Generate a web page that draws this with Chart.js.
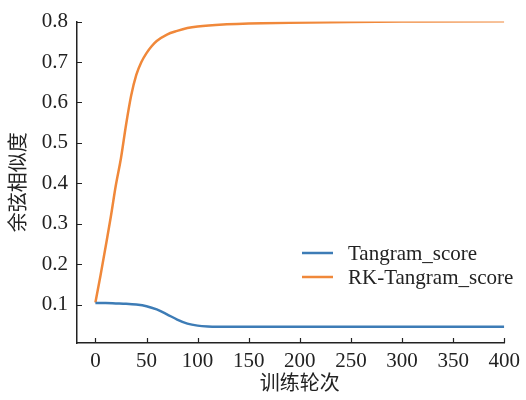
<!DOCTYPE html>
<html>
<head>
<meta charset="utf-8">
<script src="https://cdn.jsdelivr.net/npm/chart.js@4.4.1/dist/chart.umd.min.js"></script>
<style>
  body { margin: 0; background: #fff; }
  canvas { display: block; }
</style>
</head>
<body>
<canvas id="myChart" width="526" height="400"></canvas>
<script>
// epochs and scores for both runs
const tangramEpochs = [0, 10, 20, 30, 40, 50, 60, 70, 80, 90, 100, 110, 130, 160, 200, 300, 400];
const tangramScore = [0.104, 0.104, 0.103, 0.102, 0.100, 0.096, 0.088, 0.076, 0.063, 0.053, 0.048, 0.046, 0.045, 0.045, 0.045, 0.045, 0.045];

const rkEpochs = [0, 5, 10, 15, 20, 25, 30, 35, 40, 45, 50, 55, 60, 70, 80, 90, 100, 125, 150, 190, 250, 300, 400];
const rkScore = [0.105, 0.172, 0.243, 0.316, 0.395, 0.462, 0.545, 0.617, 0.668, 0.700, 0.722, 0.739, 0.752, 0.768, 0.777, 0.784, 0.788, 0.793, 0.795, 0.797, 0.799, 0.800, 0.801];

const xTicks = [0, 50, 100, 150, 200, 250, 300, 350, 400];
const yTicks = [0.1, 0.2, 0.3, 0.4, 0.5, 0.6, 0.7, 0.8];
const xTitle = '训练轮次';

const serif = "'Liberation Serif', 'Times New Roman', serif";
const cjk = "'Noto Sans CJK SC', sans-serif";
const textColor = '#222';

const toPoints = (xs, ys) => xs.map((x, i) => ({ x: x, y: ys[i] }));

// short tick marks pointing into the plot, plus the x title centred under the tick span
const axisExtras = {
  id: 'axisExtras',
  afterDraw(chart) {
    const ctx = chart.ctx;
    const xs = chart.scales.x, ys = chart.scales.y;
    ctx.save();
    ctx.strokeStyle = textColor;
    ctx.lineWidth = 1.2;
    ctx.beginPath();
    xs.ticks.forEach(t => {
      const px = Math.round(xs.getPixelForValue(t.value)) + 0.5;
      ctx.moveTo(px, ys.bottom);
      ctx.lineTo(px, ys.bottom - 5);
    });
    ys.ticks.forEach(t => {
      const py = Math.round(ys.getPixelForValue(t.value)) + 0.5;
      ctx.moveTo(xs.left, py);
      ctx.lineTo(xs.left + 5, py);
    });
    ctx.stroke();

    const first = xs.getPixelForValue(xTicks[0]);
    const last = xs.getPixelForValue(xTicks[xTicks.length - 1]);
    ctx.fillStyle = textColor;
    ctx.font = '20px ' + cjk;
    ctx.textAlign = 'center';
    ctx.textBaseline = 'middle';
    ctx.fillText(xTitle, (first + last) / 2, 382);
    ctx.restore();
  }
};

// legend sitting inside the plot, lower right
const innerLegend = {
  id: 'innerLegend',
  afterDraw(chart) {
    const ctx = chart.ctx;
    ctx.save();
    ctx.font = '21px ' + serif;
    ctx.textBaseline = 'middle';
    chart.data.datasets.forEach((ds, i) => {
      const y = 253 + i * 24;
      ctx.strokeStyle = ds.borderColor;
      ctx.lineWidth = 2.5;
      ctx.beginPath();
      ctx.moveTo(302, y);
      ctx.lineTo(333, y);
      ctx.stroke();
      ctx.fillStyle = textColor;
      ctx.fillText(ds.label, 348, y + 1);
    });
    ctx.restore();
  }
};

const ctx = document.getElementById('myChart').getContext('2d');
const chart = new Chart(ctx, {
  type: 'line',
  data: {
    datasets: [{
      label: 'Tangram_score',
      data: toPoints(tangramEpochs, tangramScore),
      borderColor: '#3d7cb6',
      borderWidth: 2.5,
      pointRadius: 0,
      cubicInterpolationMode: 'monotone',
      fill: false
    }, {
      label: 'RK-Tangram_score',
      data: toPoints(rkEpochs, rkScore),
      borderColor: '#f0883a',
      borderWidth: 2.5,
      pointRadius: 0,
      cubicInterpolationMode: 'monotone',
      fill: false
    }]
  },
  options: {
    responsive: false,
    animation: false,
    layout: { padding: { top: 17, right: 16, left: 0, bottom: 0 } },
    plugins: {
      legend: { display: false },
      tooltip: { enabled: false }
    },
    scales: {
      x: {
        type: 'linear',
        min: -18,
        max: 400,
        afterBuildTicks: s => { s.ticks = xTicks.map(v => ({ value: v })); },
        afterFit: s => { s.height = 57; },
        grid: { display: false, drawTicks: false },
        border: { display: true, color: textColor, width: 1.5 },
        ticks: {
          color: textColor,
          padding: 6,
          maxRotation: 0,
          font: { family: serif, size: 21 }
        }
      },
      y: {
        min: 0.005,
        max: 0.8,
        afterBuildTicks: s => { s.ticks = yTicks.map(v => ({ value: v })); },
        afterFit: s => { s.width = 77; },
        grid: { display: false, drawTicks: false },
        border: { display: true, color: textColor, width: 1.5 },
        ticks: {
          color: textColor,
          padding: 9,
          font: { family: serif, size: 21 },
          callback: v => v.toFixed(1)
        },
        title: {
          display: true,
          text: '余弦相似度',
          color: textColor,
          padding: { top: 5, bottom: 0 },
          font: { family: cjk, size: 20 }
        }
      }
    }
  },
  plugins: [axisExtras, innerLegend]
});
</script>
</body>
</html>
